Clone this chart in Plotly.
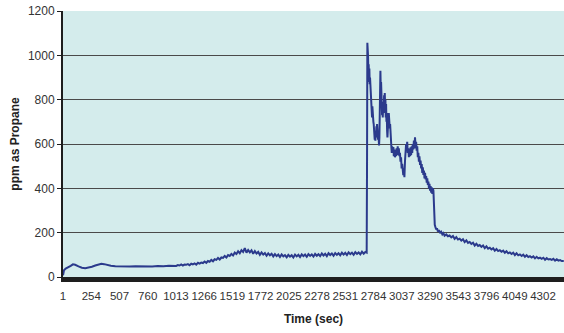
import plotly.graph_objects as go

# ---- data ----
tick_labels = [1, 254, 507, 760, 1013, 1266, 1519, 1772, 2025, 2278,
               2531, 2784, 3037, 3290, 3543, 3796, 4049, 4302]

# calm start and slow rise (t, ppm)
t_start = [1, 10, 25, 45, 70, 90, 110, 140, 170, 200, 230, 260, 290, 320, 345,
           370, 400, 430, 470, 520, 560, 600, 650, 700, 750, 800, 850, 900, 950, 1000]
p_start = [8, 30, 38, 42, 50, 57, 55, 48, 42, 40, 42, 46, 52, 58, 60,
           58, 54, 51, 49, 48, 49, 47, 49, 48, 49, 47, 50, 48, 51, 50]

t_rise = [1015, 1030, 1045, 1060, 1075, 1090, 1105, 1120, 1135, 1150, 1165, 1180,
          1195, 1210, 1225, 1240, 1255, 1270, 1285, 1300, 1315, 1330, 1345, 1360,
          1375, 1390, 1405, 1420, 1435, 1450, 1465, 1480, 1495, 1510, 1525, 1540,
          1555, 1570, 1585, 1600, 1615, 1630, 1645, 1660, 1675, 1690, 1705, 1720,
          1735, 1750, 1765, 1780, 1795, 1810, 1825, 1840, 1855, 1870, 1885, 1900,
          1915, 1930, 1945, 1960, 1975, 1990, 2005, 2020, 2035, 2050, 2065, 2080,
          2095, 2110, 2125, 2140, 2155, 2170, 2185, 2200, 2215, 2230, 2245, 2260,
          2275, 2290, 2305, 2320, 2335, 2350, 2365, 2380, 2395, 2410, 2425, 2440,
          2455, 2470, 2485, 2500, 2515, 2530, 2545, 2560, 2575, 2590, 2605, 2620,
          2635, 2650, 2665, 2680, 2695, 2710, 2722]
p_rise = [50, 54, 52, 57, 52, 56, 55, 58, 53, 60, 57, 61, 56, 64, 60, 65,
          63, 70, 64, 72, 69, 77, 71, 80, 77, 86, 79, 88, 86, 95, 88, 99,
          95, 104, 97, 110, 104, 116, 107, 121, 113, 130, 110, 122, 111, 120,
          105, 117, 106, 113, 100, 111, 101, 108, 96, 107, 98, 105, 93, 103,
          94, 101, 90, 102, 93, 99, 89, 100, 92, 98, 88, 101, 93, 100,
          90, 102, 94, 101, 91, 103, 95, 102, 92, 104, 96, 103, 94, 106,
          97, 105, 94, 107, 99, 106, 96, 108, 100, 107, 98, 110, 101, 109,
          99, 111, 103, 110, 100, 112, 104, 111, 102, 114, 105, 113, 110]

# spike and noisy decay
t_spike = [2725, 2728, 2731, 2734, 2737, 2740, 2743, 2746, 2749, 2752, 2755, 2758,
           2761, 2764, 2767, 2770, 2773, 2776, 2779, 2782, 2785, 2788, 2791, 2794,
           2797, 2800, 2803, 2806, 2809, 2812, 2815, 2818, 2821, 2824, 2827, 2830,
           2833, 2836, 2839, 2842, 2845, 2848, 2851, 2854, 2857, 2860, 2863, 2866,
           2869, 2872, 2875, 2878, 2881, 2884, 2887, 2890, 2893, 2896, 2899, 2902,
           2905, 2908, 2911, 2914, 2917, 2920, 2923, 2926, 2929, 2932, 2935, 2938,
           2941, 2944, 2947, 2950, 2953, 2956, 2959, 2962, 2965, 2970, 2975, 2980,
           2985, 2990, 2995, 3000, 3005, 3010, 3015, 3020, 3025, 3030, 3035, 3040,
           3045, 3050, 3055, 3060, 3065, 3070, 3075, 3080, 3085, 3090, 3095, 3100,
           3105, 3110, 3115, 3120, 3125, 3130, 3135, 3140, 3145, 3150, 3155, 3160,
           3165, 3170, 3175, 3180, 3185, 3190, 3195, 3200, 3205, 3210, 3215, 3220,
           3225, 3230, 3235, 3240, 3245, 3250, 3255, 3260, 3265, 3270, 3275, 3280,
           3285, 3290, 3295, 3300, 3305, 3310, 3315, 3320, 3325, 3328, 3332, 3338,
           3345, 3352, 3360, 3370, 3380, 3390, 3400, 3410, 3420]
p_spike = [500, 1057, 980, 1000, 930, 960, 880, 940, 870, 900, 860, 880,
           840, 790, 760, 720, 770, 705, 740, 700, 690, 640, 670, 620,
           650, 615, 660, 630, 680, 640, 690, 650, 670, 620, 640, 600,
           593, 630, 700, 800, 930, 850, 880, 760, 800, 730, 780, 720,
           760, 790, 740, 820, 760, 830, 780, 800, 720, 780, 700, 740,
           660, 630, 660, 700, 680, 740, 700, 720, 670, 690, 640, 610,
           600, 580, 560, 590, 560, 580, 550, 585, 545, 575, 540, 570,
           545, 580, 550, 590, 560, 580, 545, 560, 520, 540, 490, 510,
           470, 460, 490, 450, 520, 560, 600, 570, 610, 560, 580, 540,
           575, 545, 585, 550, 590, 560, 600, 575, 615, 580, 630, 590,
           610, 570, 590, 540, 560, 520, 545, 505, 525, 490, 510, 470,
           495, 460, 480, 445, 470, 440, 455, 425, 445, 415, 430, 400,
           420, 390, 410, 380, 405, 375, 400, 390, 330, 260, 235, 225,
           215, 220, 205, 212, 198, 204, 192, 198, 186]

t_tail = [3435, 3450, 3465, 3480, 3495, 3510, 3525, 3540, 3555, 3570, 3585, 3600,
          3615, 3630, 3645, 3660, 3675, 3690, 3705, 3720, 3735, 3750, 3765, 3780,
          3795, 3810, 3825, 3840, 3855, 3870, 3885, 3900, 3915, 3930, 3945, 3960,
          3975, 3990, 4005, 4020, 4035, 4050, 4065, 4080, 4095, 4110, 4125, 4140,
          4155, 4170, 4185, 4200, 4215, 4230, 4245, 4260, 4275, 4290, 4305, 4320,
          4335, 4350, 4365, 4380, 4395, 4410, 4425, 4440, 4455, 4470, 4488]
p_tail = [192, 184, 187, 179, 185, 172, 180, 169, 173, 164, 170, 157,
          165, 154, 158, 149, 155, 142, 150, 140, 144, 136, 142, 130,
          138, 128, 132, 124, 130, 119, 126, 117, 121, 114, 119, 109,
          116, 107, 111, 104, 110, 99, 107, 98, 102, 95, 101, 91,
          98, 90, 94, 88, 93, 84, 91, 84, 87, 82, 87, 78,
          85, 79, 81, 77, 82, 74, 80, 74, 76, 72, 72]

time_s = t_start + t_rise + t_spike + t_tail
ppm = p_start + p_rise + p_spike + p_tail

# ---- figure ----
FONT = "Liberation Sans, Arial, sans-serif"

fig = go.Figure()
fig.add_trace(go.Scatter(
    x=time_s, y=ppm, mode="lines",
    line=dict(color="#2b3a8c", width=2),
    hoverinfo="skip", showlegend=False,
))

fig.update_layout(
    width=564, height=333,
    margin=dict(l=63, r=0, t=11, b=56),
    paper_bgcolor="white",
    plot_bgcolor="#d4ecec",
    font=dict(family=FONT, size=12, color="#333333"),
    xaxis=dict(
        range=[1, 4490],
        tickmode="array", tickvals=tick_labels,
        ticktext=[str(v) for v in tick_labels],
        tickangle=0,
        showgrid=False, zeroline=False,
        showline=True, linecolor="#1e1e1e", linewidth=5,
        ticks="", ticklabelstandoff=4,
        tickfont=dict(family=FONT, size=11.5, color="#333333"),
        title=dict(text="<b>Time (sec)</b>", font=dict(family=FONT, size=12, color="#222222"),
                   standoff=15),
    ),
    yaxis=dict(
        range=[0, 1200],
        tickmode="array", tickvals=[0, 200, 400, 600, 800, 1000, 1200],
        showgrid=True, gridcolor="#4a4a4a", gridwidth=1,
        zeroline=False,
        showline=True, linecolor="#1e1e1e", linewidth=2,
        ticks="outside", ticklen=4, tickcolor="#1e1e1e",
        tickfont=dict(family=FONT, size=12, color="#333333"),
        title=dict(text="<b>ppm as Propane</b>", font=dict(family=FONT, size=12, color="#222222"),
                   standoff=6),
    ),
)

fig.write_html("out.html")
